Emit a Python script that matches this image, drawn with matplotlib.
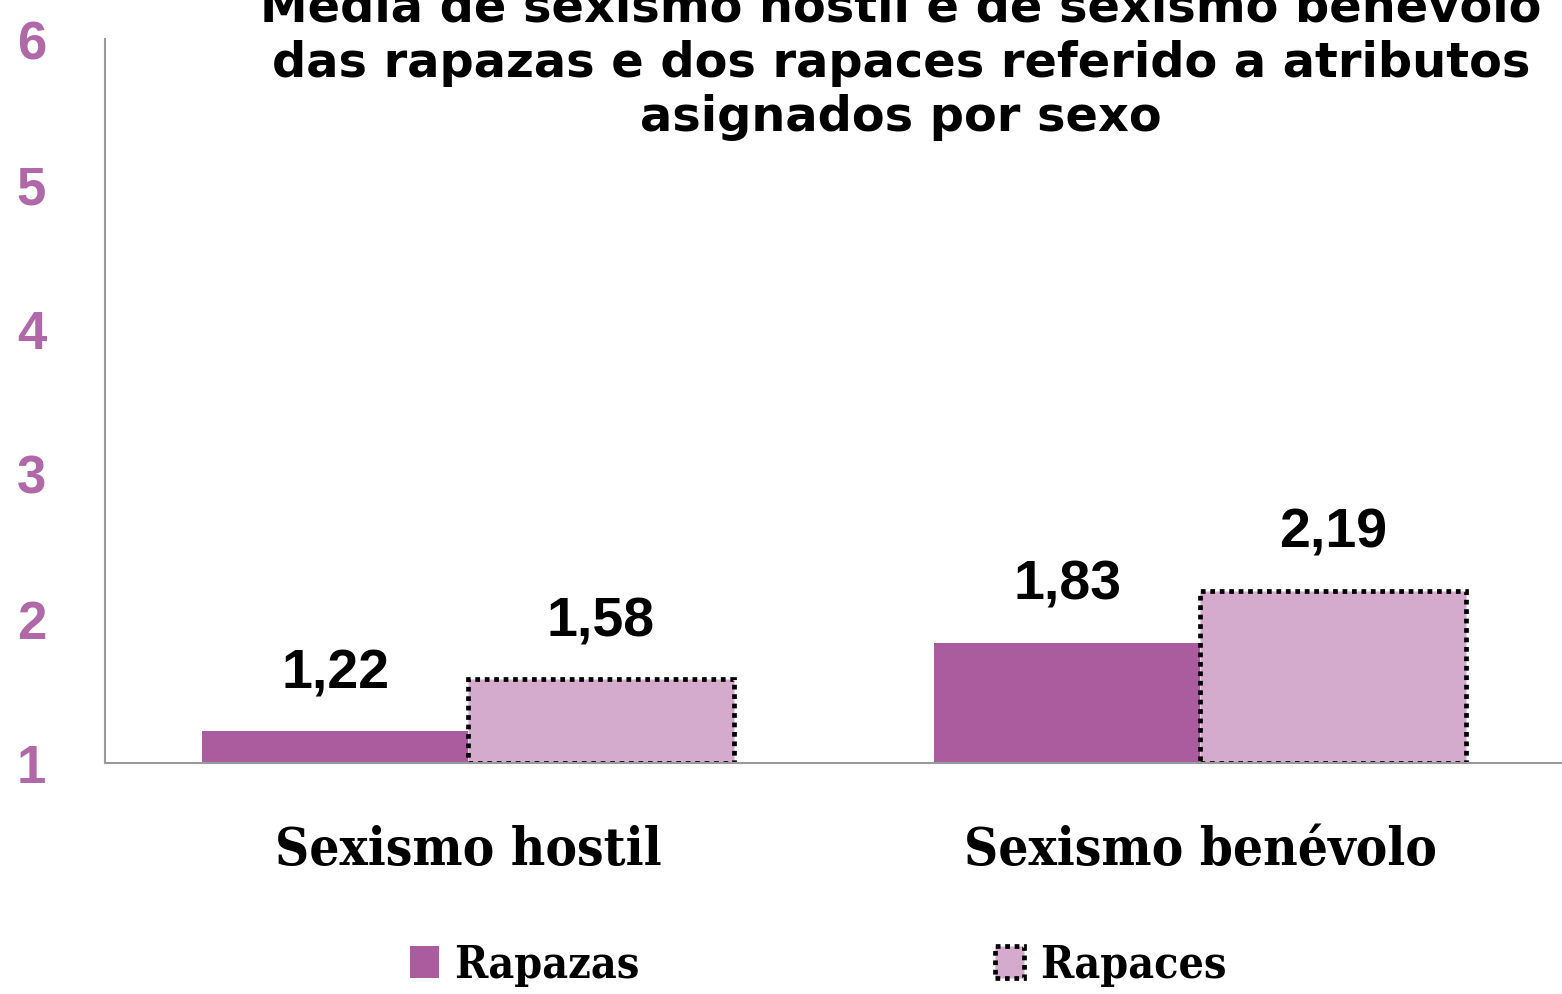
import matplotlib
matplotlib.use("Agg")
import matplotlib.pyplot as plt
from matplotlib.patches import Patch
import numpy as np

categories = ["Sexismo hostil", "Sexismo benévolo"]
series_names = ["Rapazas", "Rapaces"]
rapazas = [1.22, 1.83]
rapaces = [1.58, 2.19]
value_labels_rapazas = ["1,22", "1,83"]
value_labels_rapaces = ["1,58", "2,19"]
yticks = [1, 2, 3, 4, 5, 6]
title = "Media de sexismo hostil e de sexismo benévolo\ndas rapazas e dos rapaces referido a atributos\nasignados por sexo"

c_rapazas = "#ab5c9f"
c_rapaces = "#d5abcd"
tick_color = "#b068a8"

fig = plt.figure(figsize=(15.62, 9.95), dpi=100)
ax = fig.add_axes([105/1562, 1-764/995, 1-105/1562, (764-40)/995])

x = np.arange(len(categories))
w = 0.363
base = 1.0
b1 = ax.bar(x - w/2, np.array(rapazas) - base, w, bottom=base, color=c_rapazas, linewidth=0)
b2 = ax.bar(x + w/2, np.array(rapaces) - base, w, bottom=base, color=c_rapaces,
            edgecolor="black", linewidth=3.4, linestyle=(0, (1, 1)))

num_font = "Liberation Sans"
for xi, v, lab in zip(x - w/2, rapazas, value_labels_rapazas):
    ax.text(xi, v + 0.40, lab, ha="center", va="center", fontsize=40,
            fontweight="bold", family=num_font, color="black")
for xi, v, lab in zip(x + w/2, rapaces, value_labels_rapaces):
    ax.text(xi, v + 0.40, lab, ha="center", va="center", fontsize=40,
            fontweight="bold", family=num_font, color="black")

ax.set_xlim((105-468)/732, (1562-468)/732)
ax.set_ylim(1, 6)
ax.set_yticks(yticks)
ax.set_yticklabels([str(t) for t in yticks], fontsize=38, fontweight="bold",
                   family=num_font, color=tick_color)
ax.tick_params(axis="y", length=0, pad=53)
for lab in ax.get_yticklabels():
    lab.set_horizontalalignment("center")
ax.set_xticks(x)
ax.set_xticklabels(categories, fontsize=38, fontweight="bold", family="DejaVu Serif",
                   fontstretch="condensed")
ax.tick_params(axis="x", length=0, pad=44)

for s in ["top", "right"]:
    ax.spines[s].set_visible(False)
for s in ["left", "bottom"]:
    ax.spines[s].set_color("#9a9a9a")
    ax.spines[s].set_linewidth(1.5)

fig.text(901/1562, 1-131/995, title, ha="center", va="baseline", fontsize=34.5,
         fontweight="bold", family="DejaVu Sans", linespacing=1.2)

handles = [Patch(facecolor=c_rapazas, edgecolor="none"),
           Patch(facecolor=c_rapaces, edgecolor="black", linewidth=3.4, linestyle=(0, (1, 1)))]
fig.legend(handles, series_names, loc="center", bbox_to_anchor=(818/1562, 1-966/995),
           ncol=2, frameon=False,
           prop={"family": "DejaVu Serif", "weight": "bold", "size": 32, "stretch": "condensed"},
           handlelength=0.65, handleheight=0.7, handletextpad=0.35, columnspacing=8.0)

fig.savefig("out.png", dpi=100)
